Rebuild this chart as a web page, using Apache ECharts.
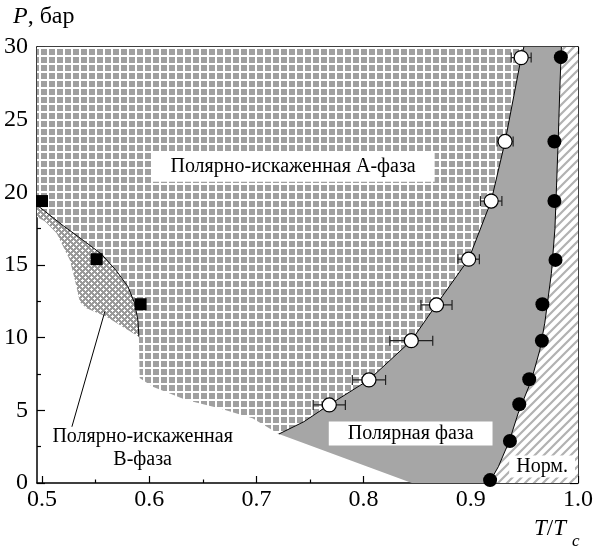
<!DOCTYPE html>
<html><head><meta charset="utf-8">
<script src="https://cdn.jsdelivr.net/npm/echarts@6/dist/echarts.min.js"></script>
<style>html,body{margin:0;padding:0;background:#fff}#c{width:596px;height:551px}</style>
</head><body><div id="c"></div>
<script>
// ---------- axis ranges & ticks ----------
const X_MIN = 0.49535, X_MAX = 1.0, Y_MIN = 0, Y_MAX = 30;
const xMajorTicks = [0.5, 0.6, 0.7, 0.8, 0.9, 1.0];
const xMinorTicks = [0.55, 0.65, 0.75, 0.85, 0.95];

// ---------- measured points ----------
// A-phase / polar phase transition (open circles, with T errors)
const openX   = [0.768, 0.805, 0.8445, 0.868, 0.898, 0.919, 0.932, 0.947];
const openP   = [5.37, 7.09, 9.79, 12.25, 15.4, 19.4, 23.5, 29.27];
const openErr = [0.015, 0.0155, 0.020, 0.0145, 0.010, 0.010, 0.0075, 0.0093];
// polar / normal transition (filled circles)
const fillX = [0.918, 0.9365, 0.9452, 0.9545, 0.9663, 0.9668, 0.979, 0.978, 0.978, 0.984];
const fillP = [0.2, 2.89, 5.42, 7.14, 9.79, 12.3, 15.35, 19.4, 23.5, 29.3];
// B-phase points (filled squares)
const sqX = [0.5, 0.551, 0.592];
const sqP = [19.4, 15.4, 12.3];

// ---------- phase boundaries ----------
const curveAP = [[0.721,3.37],[0.7444,4.22],[0.7677,5.37],[0.8048,7.09],[0.8445,9.79],[0.8677,12.25],[0.898,15.4],[0.919,19.4],[0.932,23.5],[0.947,29.27],[0.9495,30]];
const curveNorm = [[0.917,0],[0.9257,1.12],[0.936,2.9],[0.9442,4.8],[0.9566,7.09],[0.9644,9.15],[0.969,11.0],[0.9752,14.43],[0.9785,17.5],[0.980,20.5],[0.9815,23.5],[0.983,27],[0.9845,30]];
const curveBUpper = [[0.4975,19.0],[0.5198,17.7],[0.5384,16.7],[0.5555,15.75],[0.5694,14.6],[0.5802,13.51],[0.5864,12.37],[0.5895,11.2],[0.5904,10.07]];
const edgeBLower = [[0.5904,10.07],[0.5601,11.44],[0.5415,12.02],[0.5353,12.47],[0.5307,13.97],[0.526,15.34],[0.5137,17.18],[0.503,18.0],[X_MIN,18.3]];
const edgeALower = [[0.721,3.37],[0.6964,4.45],[0.6654,5.14],[0.6345,5.71],[0.6034,6.63],[0.5911,7.22],[0.5904,10.07]];
const leaderB = [[0.5586,11.79],[0.5279,3.87]];

// ---------- labels ----------
const labelA = 'Полярно-искаженная А-фаза';
const labelPolar = 'Полярная фаза';
const labelNorm = 'Норм.';
const labelB1 = 'Полярно-искаженная';
const labelB2 = 'В-фаза';

// ---------- polygons built from the boundaries ----------
const polyA = [[X_MIN,30]].concat(curveAP.slice().reverse(), edgeALower.slice(1), curveBUpper.slice().reverse().slice(1), [[X_MIN,19.0]]);
const polyPolar = curveAP.concat([[0.9845,30]], curveNorm.slice().reverse().slice(1), [[0.845,0]]);
const polyNorm = curveNorm.concat([[X_MAX,30],[X_MAX,0]]);
const polyB = [[X_MIN,19.0]].concat(curveBUpper, edgeBLower.slice(1));

// ---------- fill patterns ----------
function tile(w,h,draw){const c=document.createElement('canvas');c.width=w;c.height=h;const g=c.getContext('2d');draw(g);return c;}
const patGrid = tile(8,8,g=>{g.fillStyle='#fff';g.fillRect(0,0,8,8);g.fillStyle='#a0a0a0';g.fillRect(1,1,6,6);});
const patCross = tile(6,6,g=>{g.fillStyle='#9a9a9a';g.fillRect(0,0,6,6);g.fillStyle='#fff';
  g.fillRect(1,0,1,3);g.fillRect(0,1,3,1);g.fillRect(4,3,1,3);g.fillRect(3,4,3,1);});
const patHatch = tile(9,9,g=>{g.fillStyle='#fff';g.fillRect(0,0,9,9);g.strokeStyle='#b2b2b2';g.lineWidth=2.2;
  g.beginPath();g.moveTo(-1,10);g.lineTo(10,-1);g.moveTo(-5.5,5.5);g.lineTo(5.5,-5.5);g.moveTo(3.5,14.5);g.lineTo(14.5,3.5);g.stroke();});

const FONT = '"Liberation Serif", "DejaVu Serif", serif';

function polySeries(points, fill, z){
  return {type:'custom', coordinateSystem:'cartesian2d', xAxisIndex:0, yAxisIndex:0, silent:true, z:z,
    data:[[0.75,15]], clip:true,
    renderItem:function(params, api){
      return {type:'polygon', shape:{points: points.map(p=>api.coord(p))}, style:{fill:fill, stroke:null}};
    }};
}
function lineSeries(points, z){
  return {type:'line', xAxisIndex:0, yAxisIndex:0, data:points, symbol:'none', silent:true, z:z, clip:true,
    lineStyle:{color:'#000', width:1}, animation:false};
}
function textSeries(x, y, text, boxed, padding){
  return {type:'custom', coordinateSystem:'cartesian2d', xAxisIndex:0, yAxisIndex:0, silent:true, z:20,
    data:[[x,y]], clip:false,
    renderItem:function(params, api){
      const p = api.coord([api.value(0), api.value(1)]);
      const st = {text:text, x:p[0], y:p[1], align:'center', verticalAlign:'middle', fill:'#000',
        fontSize:20, fontFamily:FONT};
      if (boxed){ st.backgroundColor='#fff'; st.padding=padding; }
      return {type:'text', style:st};
    }};
}

const errData = openX.map((x,i)=>[x, openP[i], openErr[i]]);

const axisLineStyle = {color:'#000', width:1.5};
const tickStyle = {color:'#000', width:1.2};

const option = {
  animation:false,
  backgroundColor:'#fff',
  textStyle:{fontFamily:FONT},
  grid:{left:37, right:16, top:47, bottom:68, containLabel:false},
  xAxis:[
    {type:'value', min:X_MIN, max:X_MAX, position:'bottom',
     axisLine:{show:true, lineStyle:axisLineStyle},
     axisTick:{show:true, inside:true, length:7, customValues:xMajorTicks, lineStyle:tickStyle},
     axisLabel:{show:true, customValues:xMajorTicks, formatter:v=>Number(v).toFixed(1), fontFamily:FONT, fontSize:24, color:'#000', margin:5},
     splitLine:{show:false}},
    {type:'value', min:X_MIN, max:X_MAX, position:'bottom',
     axisLine:{show:false}, axisTick:{show:true, inside:true, length:3.5, customValues:xMinorTicks, lineStyle:tickStyle},
     axisLabel:{show:false}, splitLine:{show:false}},
    {type:'value', min:X_MIN, max:X_MAX, position:'top',
     axisLine:{show:true, lineStyle:axisLineStyle},
     axisTick:{show:true, inside:true, length:7, customValues:xMajorTicks, lineStyle:tickStyle},
     axisLabel:{show:false}, splitLine:{show:false}},
    {type:'value', min:X_MIN, max:X_MAX, position:'top',
     axisLine:{show:false}, axisTick:{show:true, inside:true, length:3.5, customValues:xMinorTicks, lineStyle:tickStyle},
     axisLabel:{show:false}, splitLine:{show:false}}
  ],
  yAxis:[
    {type:'value', min:Y_MIN, max:Y_MAX, interval:5, position:'left',
     axisLine:{show:true, lineStyle:axisLineStyle},
     axisTick:{show:true, inside:true, length:8, lineStyle:tickStyle},
     minorTick:{show:true, splitNumber:2, length:4, lineStyle:tickStyle},
     axisLabel:{show:true, fontFamily:FONT, fontSize:24, color:'#000', margin:9},
     splitLine:{show:false}, minorSplitLine:{show:false}},
    {type:'value', min:Y_MIN, max:Y_MAX, interval:5, position:'right',
     axisLine:{show:true, lineStyle:axisLineStyle},
     axisTick:{show:true, inside:true, length:8, lineStyle:tickStyle},
     minorTick:{show:true, splitNumber:2, length:4, lineStyle:tickStyle},
     axisLabel:{show:false}, splitLine:{show:false}, minorSplitLine:{show:false}}
  ],
  graphic:[
    {type:'text', left:13, top:5, z:100, style:{text:'{i|P}{r|, бар}', fill:'#000', fontSize:24, fontFamily:FONT,
      rich:{i:{fontStyle:'italic', fontSize:24, fontFamily:FONT}, r:{fontSize:24, fontFamily:FONT}}}},
    {type:'text', left:534, top:517, z:100, style:{text:'{i|T}{r|/}{i|T}', fill:'#000', fontSize:23, fontFamily:FONT,
      rich:{i:{fontStyle:'italic', fontSize:23, fontFamily:FONT}, r:{fontSize:23, fontFamily:FONT}}}},
    {type:'text', left:572, top:533, z:100, style:{text:'c', fill:'#000', fontStyle:'italic', fontSize:17, fontFamily:FONT}}
  ],
  series:[
    polySeries(polyA, {image:patGrid, repeat:'repeat'}, 1),
    polySeries(polyPolar, '#a6a6a6', 1),
    polySeries(polyNorm, {image:patHatch, repeat:'repeat'}, 1),
    polySeries(polyB, {image:patCross, repeat:'repeat'}, 1),
    lineSeries(curveAP, 5),
    lineSeries(curveNorm, 5),
    lineSeries(curveBUpper, 5),
    lineSeries(leaderB, 5),
    {type:'custom', coordinateSystem:'cartesian2d', xAxisIndex:0, yAxisIndex:0, silent:true, z:6, data:errData, clip:false,
     renderItem:function(params, api){
       const x=api.value(0), y=api.value(1), e=api.value(2);
       const a=api.coord([x-e,y]), b=api.coord([x+e,y]); const h=5;
       const s={stroke:'#222', lineWidth:1.2};
       return {type:'group', children:[
         {type:'line', shape:{x1:a[0],y1:a[1],x2:b[0],y2:b[1]}, style:s},
         {type:'line', shape:{x1:a[0],y1:a[1]-h,x2:a[0],y2:a[1]+h}, style:s},
         {type:'line', shape:{x1:b[0],y1:b[1]-h,x2:b[0],y2:b[1]+h}, style:s}
       ]};
     }},
    {type:'scatter', xAxisIndex:0, yAxisIndex:0, z:8, silent:true, symbol:'circle', symbolSize:14,
     data:openX.map((x,i)=>[x, openP[i]]), itemStyle:{color:'#fff', borderColor:'#000', borderWidth:1.2, opacity:1}},
    {type:'scatter', xAxisIndex:0, yAxisIndex:0, z:8, silent:true, symbol:'circle', symbolSize:14,
     data:fillX.map((x,i)=>[x, fillP[i]]), itemStyle:{color:'#000', opacity:1}},
    {type:'scatter', xAxisIndex:0, yAxisIndex:0, z:8, silent:true, symbol:'rect', symbolSize:12,
     data:sqX.map((x,i)=>[x, sqP[i]]), itemStyle:{color:'#000', opacity:1}},
    textSeries(0.7342, 21.73, labelA, true, [5,19,4,19]),
    textSeries(0.8439, 3.41, labelPolar, true, [2,19,2,19]),
    textSeries(0.9665, 1.14, labelNorm, true, [1,7,1,7]),
    textSeries(0.5939, 3.19, labelB1, false),
    textSeries(0.5939, 1.58, labelB2, false)
  ]
};
const chart = echarts.init(document.getElementById('c'), null, {renderer:'canvas'});
chart.setOption(option);
</script>
</body></html>
